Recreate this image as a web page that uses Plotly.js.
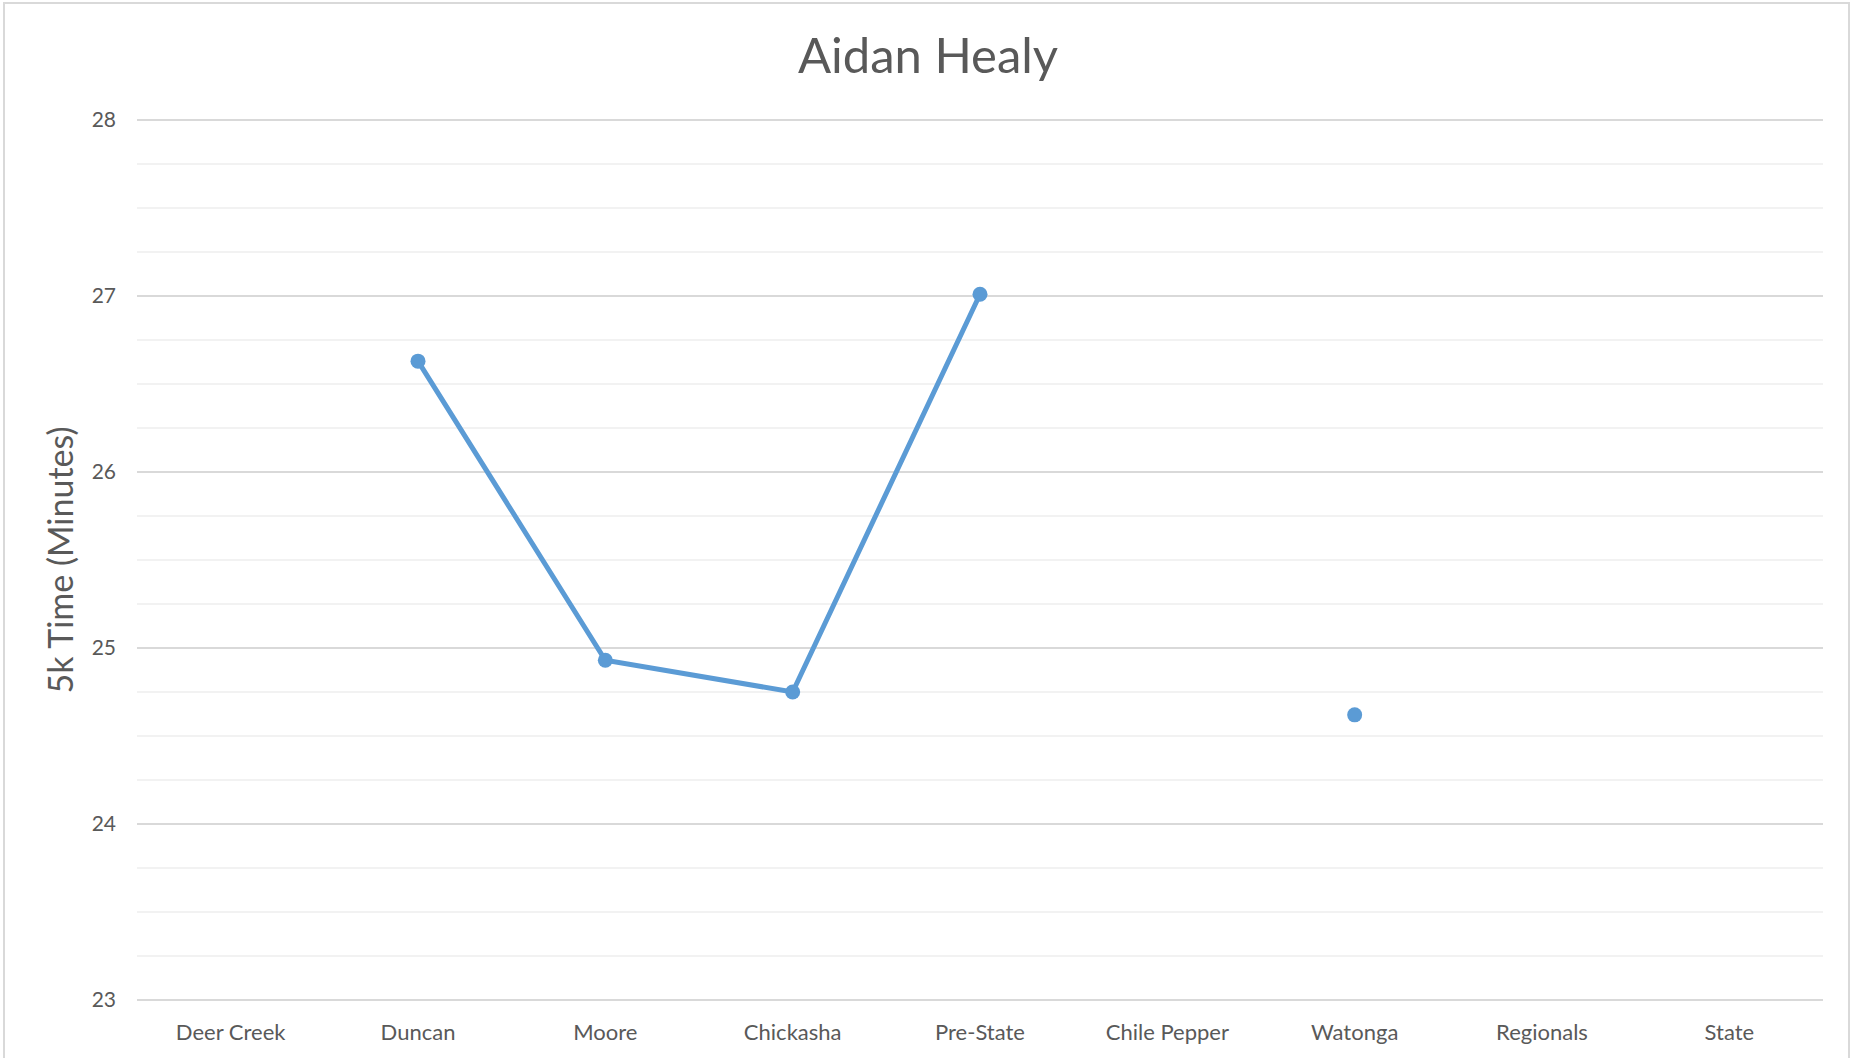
<!DOCTYPE html>
<html>
<head>
<meta charset="utf-8">
<script src="https://cdn.plot.ly/plotly-3.0.1.min.js"></script>
<style>
  html, body { margin: 0; padding: 0; background: #ffffff; overflow: hidden; }
  #frame { position: absolute; left: 3px; top: 2px; width: 1847px; height: 1100px; border: 2px solid #d9d9d9; box-sizing: border-box; }
  #chart { position: absolute; left: 0; top: 0; width: 1866px; height: 1058px; }
</style>
</head>
<body>
<div id="frame"></div>
<div id="chart"></div>
<script>
const chartTitle = "Aidan Healy";
const yTitle = "5k Time (Minutes)";
const races = ["Deer Creek", "Duncan", "Moore", "Chickasha", "Pre-State", "Chile Pepper", "Watonga", "Regionals", "State"];
const times = [null, 26.63, 24.93, 24.75, 27.01, null, 24.62, null, null];
const yMin = 23, yMax = 28;

const fontFamily = "Lato, 'Open Sans', sans-serif";
const textColor = "#595959";

const trace = {
  type: "scatter",
  mode: "lines+markers",
  x: races,
  y: times,
  connectgaps: false,
  line: { color: "#5b9bd5", width: 5 },
  marker: { color: "#5b9bd5", size: 15 },
  hoverinfo: "x+y"
};

const pad = 0.006;
const layout = {
  width: 1866,
  height: 1058,
  paper_bgcolor: "rgba(0,0,0,0)",
  plot_bgcolor: "rgba(0,0,0,0)",
  margin: { l: 137, r: 43, t: 119, b: 57 },
  showlegend: false,
  title: {
    text: chartTitle,
    font: { family: fontFamily, size: 49, color: textColor },
    x: 928 / 1866, xanchor: "center", xref: "container",
    y: 1 - 56 / 1058, yanchor: "middle", yref: "container"
  },
  xaxis: {
    type: "category",
    range: [-0.5, races.length - 0.5],
    showgrid: false,
    zeroline: false,
    showline: false,
    ticks: "",
    ticklabelstandoff: 16,
    tickfont: { family: fontFamily, size: 22, color: textColor }
  },
  yaxis: {
    range: [yMin - pad, yMax + pad],
    dtick: 1,
    tick0: 23,
    showgrid: true,
    gridcolor: "#d9d9d9",
    gridwidth: 2,
    zeroline: false,
    showline: false,
    ticks: "",
    ticklabelstandoff: 20,
    tickfont: { family: fontFamily, size: 21, color: textColor },
    minor: { dtick: 0.25, showgrid: true, gridcolor: "#f2f2f2", gridwidth: 2, ticks: "" },
    title: {
      text: yTitle,
      standoff: 7,
      font: { family: fontFamily, size: 34, color: textColor }
    }
  }
};

Plotly.newPlot("chart", [trace], layout, { displayModeBar: false, staticPlot: true });
</script>
</body>
</html>
